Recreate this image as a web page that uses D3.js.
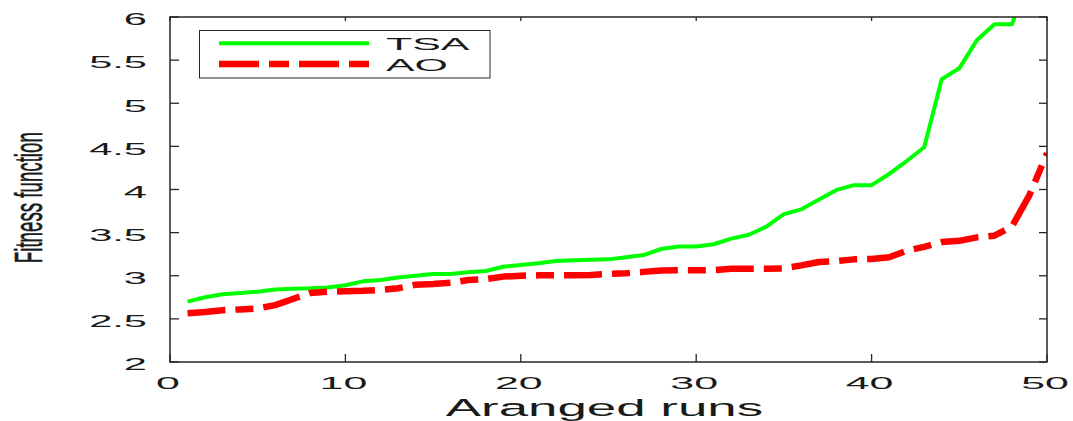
<!DOCTYPE html>
<html>
<head>
<meta charset="utf-8">
<script src="https://cdn.jsdelivr.net/npm/d3@7"></script>
<style>
  html, body { margin: 0; padding: 0; background: #fff; }
  svg { display: block; }
  text { font-family: "Liberation Sans", Arial, sans-serif; fill: #1a1a1a; }
</style>
</head>
<body>
<svg id="chart" width="1073" height="421"></svg>
<script>
// ---- data ----
const runs = [1,2,3,4,5,6,7,8,9,10,11,12,13,14,15,16,17,18,19,20,21,22,23,24,25,
              26,27,28,29,30,31,32,33,34,35,36,37,38,39,40,41,42,43,44,45,46,47,48,49,50];
const tsa = [2.70,2.75,2.785,2.80,2.815,2.84,2.85,2.855,2.865,2.89,
             2.935,2.95,2.98,3.00,3.02,3.02,3.04,3.055,3.105,3.125,
             3.145,3.17,3.18,3.185,3.19,3.215,3.24,3.31,3.34,3.34,
             3.365,3.43,3.475,3.57,3.715,3.77,3.885,3.995,4.05,4.05,
             4.18,4.33,4.49,5.28,5.405,5.73,5.915,5.915,6.5,7.1];
const ao = [2.565,2.58,2.60,2.61,2.62,2.66,2.73,2.80,2.815,2.82,
            2.825,2.835,2.855,2.895,2.905,2.92,2.95,2.96,2.99,3.0,
            3.005,3.005,3.005,3.01,3.02,3.03,3.045,3.06,3.065,3.065,
            3.065,3.08,3.08,3.08,3.085,3.12,3.16,3.17,3.19,3.195,
            3.215,3.29,3.335,3.39,3.405,3.445,3.465,3.57,3.935,4.42];
const xTicks = [0,10,20,30,40,50];
const yTicks = [2,2.5,3,3.5,4,4.5,5,5.5,6];
const seriesNames = ["TSA","AO"];
const xLabel = "Aranged runs";
const yLabel = "Fitness function";

// ---- layout ----
const L = 170, R = 1047, T = 17, B = 362;
const svg = d3.select("#chart");
const x = d3.scaleLinear().domain([0,50]).range([L,R]);
const y = d3.scaleLinear().domain([2,6]).range([B,T]);
const axisColor = "#262626";

svg.append("defs").append("clipPath").attr("id","plotclip")
  .append("rect").attr("x",L).attr("y",T).attr("width",R-L).attr("height",B-T);

// lines
const line = d3.line().x((d,i)=>x(runs[i])).y(d=>y(d));
const g = svg.append("g").attr("clip-path","url(#plotclip)");
g.append("path").datum(tsa).attr("d",line)
  .attr("fill","none").attr("stroke","#00ff00").attr("stroke-width",4)
  .attr("stroke-linejoin","round");
g.append("path").datum(ao).attr("d",line)
  .attr("fill","none").attr("stroke","#ff0000").attr("stroke-width",6.5)
  .attr("stroke-dasharray","38,10,18,10").attr("stroke-linejoin","round");

// axes box
svg.append("rect").attr("x",L).attr("y",T).attr("width",R-L).attr("height",B-T)
  .attr("fill","none").attr("stroke",axisColor).attr("stroke-width",1.5);

// ticks
const tk = svg.append("g").attr("stroke",axisColor).attr("stroke-width",1.3);
xTicks.forEach(t=>{
  tk.append("line").attr("x1",x(t)).attr("x2",x(t)).attr("y1",B).attr("y2",B-8);
  tk.append("line").attr("x1",x(t)).attr("x2",x(t)).attr("y1",T).attr("y2",T+4);
});
yTicks.forEach(t=>{
  tk.append("line").attr("x1",L).attr("x2",L+9).attr("y1",y(t)).attr("y2",y(t));
  tk.append("line").attr("x1",R).attr("x2",R-8).attr("y1",y(t)).attr("y2",y(t));
});

// tick labels (stretched horizontally, as in the reference)
yTicks.forEach(t=>{
  svg.append("g").attr("transform",`translate(147,${y(t)+8.3}) scale(2.6,1)`)
    .append("text").attr("text-anchor","end").attr("font-size",16).text(d3.format("")(t));
});
xTicks.forEach(t=>{
  svg.append("g").attr("transform",`translate(${x(t)-2},389) scale(2.6,1)`)
    .append("text").attr("text-anchor","middle").attr("font-size",16.5).text(t);
});

// axis titles
svg.append("g").attr("transform","translate(604.5,415.5) scale(2.25,1)")
  .append("text").attr("text-anchor","middle").attr("font-size",23.5).text(xLabel);
svg.append("g").attr("transform","translate(42,197.7) scale(2.1,1) rotate(-90)")
  .append("text").attr("text-anchor","middle").attr("font-size",18.7)
  .attr("stroke","#1a1a1a").attr("stroke-width",0.3).text(yLabel);

// legend
const lg = svg.append("g");
lg.append("rect").attr("x",199.5).attr("y",30.5).attr("width",290.5).attr("height",47.5)
  .attr("fill","#fff").attr("stroke",axisColor).attr("stroke-width",1);
lg.append("line").attr("x1",219).attr("x2",369).attr("y1",43.3).attr("y2",43.3)
  .attr("stroke","#00ff00").attr("stroke-width",4);
lg.append("line").attr("x1",219).attr("x2",369).attr("y1",64).attr("y2",64)
  .attr("stroke","#ff0000").attr("stroke-width",6.5).attr("stroke-dasharray","40,10,20,10");
[[seriesNames[0],50],[seriesNames[1],71]].forEach(([s,by])=>{
  lg.append("g").attr("transform",`translate(386,${by}) scale(2.6,1)`)
    .append("text").attr("font-size",16.5).text(s);
});
</script>
</body>
</html>
